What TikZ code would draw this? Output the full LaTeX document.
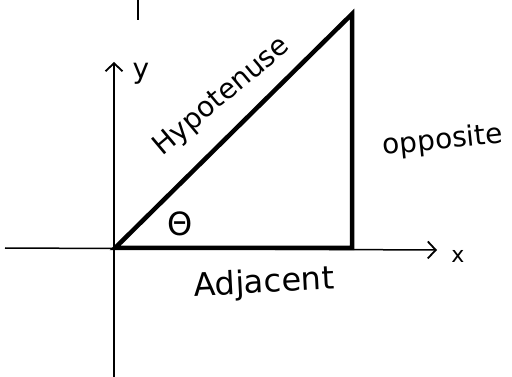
\documentclass[tikz,border=0pt]{standalone}
\usepackage{fontspec}
\setmainfont{DejaVu Sans}
\usetikzlibrary{arrows.meta}
\begin{document}
\begin{tikzpicture}[x=1pt,y=-1pt,
  axis/.style={line width=1.5pt,-{Straight Barb[length=8pt,width=17pt,line width=1.8pt]}},
  side/.style={line width=4.5pt,line join=miter},
  lbl/.style={font=\fontsize{28}{32}\selectfont,inner sep=0pt}]
\useasboundingbox[fill=white] (0,0) rectangle (512,377);
\coordinate (O) at (115,248);
\coordinate (A) at (352,248);
\coordinate (B) at (352,14);
\coordinate (xl) at (5,248);
\coordinate (xr) at (437,250);
\coordinate (yb) at (114,377);
\coordinate (yt) at (114,62);
\coordinate (t1) at (138,0);
\coordinate (t2) at (138,20);
\draw[axis] (xl) -- (xr);
\draw[axis] (yb) -- (yt);
\draw[line width=1.5pt] (t1) -- (t2);
\draw[side] (O) -- (A) -- (B) -- cycle;
\node[lbl,font=\fontsize{22}{24}\selectfont] (xlab) at (458,256) {x};
\node[lbl,font=\fontsize{28}{30}\selectfont] (ylab) at (141,74) {y};
\node[lbl,rotate=40] (hyp) at (222,97) {Hypotenuse};
\node[lbl,rotate=6] (opp) at (443,141) {opposite};
\node[lbl,font=\fontsize{32}{36}\selectfont,rotate=3] (adj) at (264,284) {Adjacent};
\node[lbl,font=\fontsize{32}{36}\selectfont] (th) at (180,224) {Θ};
\end{tikzpicture}
\end{document}
